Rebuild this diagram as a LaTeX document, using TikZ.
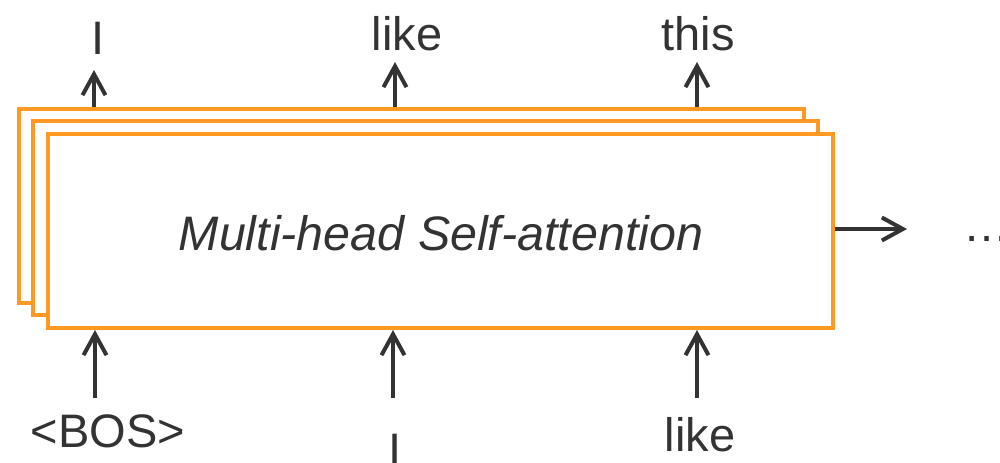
\documentclass[tikz,border=0pt]{standalone}
\usepackage{fontspec}
\setmainfont{Liberation Sans}
\usetikzlibrary{arrows.meta}
\definecolor{boxorange}{RGB}{255,153,35}
\definecolor{ink}{RGB}{51,51,51}
\begin{document}
\begin{tikzpicture}[x=0.5pt,y=-0.5pt,
  headbox/.style={draw=boxorange, line width=2pt, fill=white,
    minimum width=392.5pt, minimum height=97pt, inner sep=0pt},
  arr/.style={draw=ink, line width=2pt,
    -{Straight Barb[length=10.5pt,width=11.5pt,line width=2pt]}},
  word/.style={text=ink, inner sep=0pt, anchor=base,
    font=\fontsize{23.5pt}{28pt}\selectfont}]
  \clip (0,0) rectangle (1000,462);
  \useasboundingbox (0,0) rectangle (1000,462);

  % stacked attention heads, back to front
  \node[headbox] (back)  at (411,205.5) {};
  \node[headbox] (mid)   at (425.5,217.5) {};
  \node[headbox] (front) at (440,231) {};
  \node[word, font=\fontsize{24.2pt}{29pt}\selectfont\itshape] (title)
    at (441,250) {Multi-head Self-attention};

  % outputs
  \node[word] (o1) at (98,54) {I};
  \node[word] (o2) at (407,50) {like};
  \node[word] (o3) at (698,50) {this};
  \coordinate (t1) at (94,70);
  \coordinate (t2) at (395,62);
  \coordinate (t3) at (697,62);
  \draw[arr] (t1 |- back.north) -- (t1);
  \draw[arr] (t2 |- back.north) -- (t2);
  \draw[arr] (t3 |- back.north) -- (t3);

  % inputs
  \node[word] (i1) at (108,447) {<BOS>};
  \node[word] (i2) at (395,466) {I};
  \node[word] (i3) at (700,451) {like};
  \coordinate (b1) at (95,398);
  \coordinate (b2) at (393,398);
  \coordinate (b3) at (697,398);
  \draw[arr] (b1) -- (b1 |- front.south);
  \draw[arr] (b2) -- (b2 |- front.south);
  \draw[arr] (b3) -- (b3 |- front.south);

  % continuation to the right
  \coordinate (r) at (907,229);
  \draw[arr] (r -| front.east) -- (r);
  \node[word, anchor=base west] (dots) at (963,241) {…};
\end{tikzpicture}
\end{document}
